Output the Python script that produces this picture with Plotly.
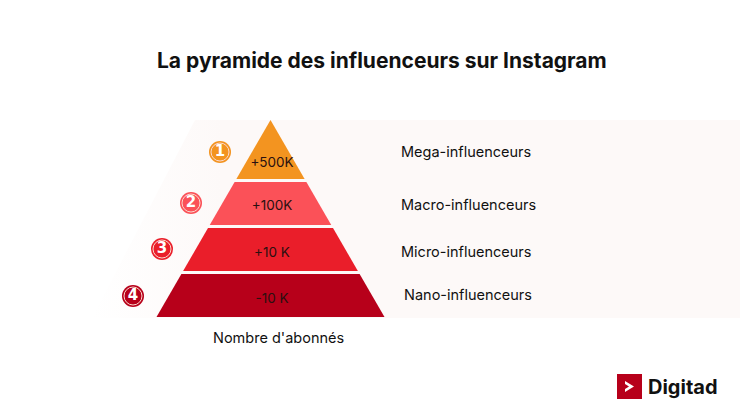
import plotly.graph_objects as go

TEXT_FONT = "Inter"

# pyramid tiers, top to bottom
tiers = ["Mega-influenceurs", "Macro-influenceurs", "Micro-influenceurs", "Nano-influenceurs"]
followers = ["+500K", "+100K", "+10 K", "-10 K"]
ranks = ["1", "2", "3", "4"]
colors = ["#F39420", "#FB5158", "#EA1E2A", "#B7001A"]

# the picture is laid out in pixel units
tier_top = [120, 182, 228, 274]
tier_bottom = [179, 225, 271, 317]
label_y = [163.5, 206.5, 253.5, 299.5]
name_x = [401, 401, 401, 404]
name_y = [153, 206, 253, 296]
badge_x = [220, 191, 162, 133]
badge_y = [152, 203, 249, 296]

apex_x = 270.5
apex_y = 120
slope = 114 / 197  # half width of the pyramid per pixel of height

fig = go.Figure()


def half_width(y):
    return (y - apex_y) * slope


# pale band behind the pyramid, fading out on its left side
fig.add_trace(go.Scatter(
    x=[195, 740, 740, 92, 195],
    y=[120, 120, 318, 318, 120],
    mode="lines",
    fill="toself",
    fillgradient=dict(
        type="horizontal",
        colorscale=[[0, "#FFFFFF"], [0.2, "#FDF9F8"], [1, "#FDF9F8"]],
    ),
    line=dict(width=0),
    hoverinfo="skip",
))

for i, tier in enumerate(tiers):
    top, bottom = tier_top[i], tier_bottom[i]
    fig.add_trace(go.Scatter(
        x=[apex_x - half_width(top), apex_x + half_width(top),
           apex_x + half_width(bottom), apex_x - half_width(bottom),
           apex_x - half_width(top)],
        y=[top, top, bottom, bottom, top],
        mode="lines",
        fill="toself",
        fillcolor=colors[i],
        line=dict(width=0),
        name=tier,
    ))

# follower counts inside the pyramid
fig.add_trace(go.Scatter(
    x=[272] * len(followers),
    y=label_y,
    mode="text",
    text=followers,
    textposition="middle center",
    textfont=dict(family=TEXT_FONT, size=13.5, color="#2A1010"),
    hoverinfo="skip",
))

# tier names on the right
fig.add_trace(go.Scatter(
    x=name_x,
    y=name_y,
    mode="text",
    text=tiers,
    textposition="middle right",
    textfont=dict(family=TEXT_FONT, size=14.5, color="#111111"),
    hoverinfo="skip",
))

# numbered badges
fig.add_trace(go.Scatter(
    x=badge_x,
    y=badge_y,
    mode="markers",
    marker=dict(size=22, color=colors, line=dict(width=0)),
    hoverinfo="skip",
))
fig.add_trace(go.Scatter(
    x=badge_x,
    y=badge_y,
    mode="markers+text",
    marker=dict(size=18, color=colors, line=dict(width=1, color="#FBD9CE")),
    text=[f"<b>{r}</b>" for r in ranks],
    textposition="middle center",
    textfont=dict(family="DejaVu Sans", size=15, color="white"),
    hoverinfo="skip",
))

# logo
fig.add_shape(type="rect", x0=617, x1=642, y0=374, y1=399,
              fillcolor="#B7001A", line_width=0)
fig.add_shape(type="path", path="M 625 381 L 634 386.5 L 625 392 L 625 389 L 629 386.5 L 625 384 Z",
              fillcolor="white", line_width=0)
fig.add_annotation(x=646, y=387, text="<b>Digitad</b>", showarrow=False,
                   xanchor="left", yanchor="middle",
                   font=dict(family=TEXT_FONT, size=20, color="#111111"))

fig.add_annotation(x=381.5, y=60, text="<b>La pyramide des influenceurs sur Instagram</b>",
                   showarrow=False, xanchor="center", yanchor="middle",
                   font=dict(family=TEXT_FONT, size=21, color="#111111"))
fig.add_annotation(x=278.5, y=337, text="Nombre d'abonnés", showarrow=False,
                   xanchor="center", yanchor="middle",
                   font=dict(family=TEXT_FONT, size=14.5, color="#111111"))

fig.update_xaxes(range=[0, 740], visible=False, fixedrange=True)
fig.update_yaxes(range=[417, 0], visible=False, fixedrange=True)
fig.update_layout(
    width=740,
    height=417,
    margin=dict(l=0, r=0, t=0, b=0),
    paper_bgcolor="white",
    plot_bgcolor="white",
    showlegend=False,
)

# the page's default body margin would push the figure 8px in
fig.write_html(
    "out.html",
    config={"displayModeBar": False},
    post_script="document.body.style.margin = '0';",
)
